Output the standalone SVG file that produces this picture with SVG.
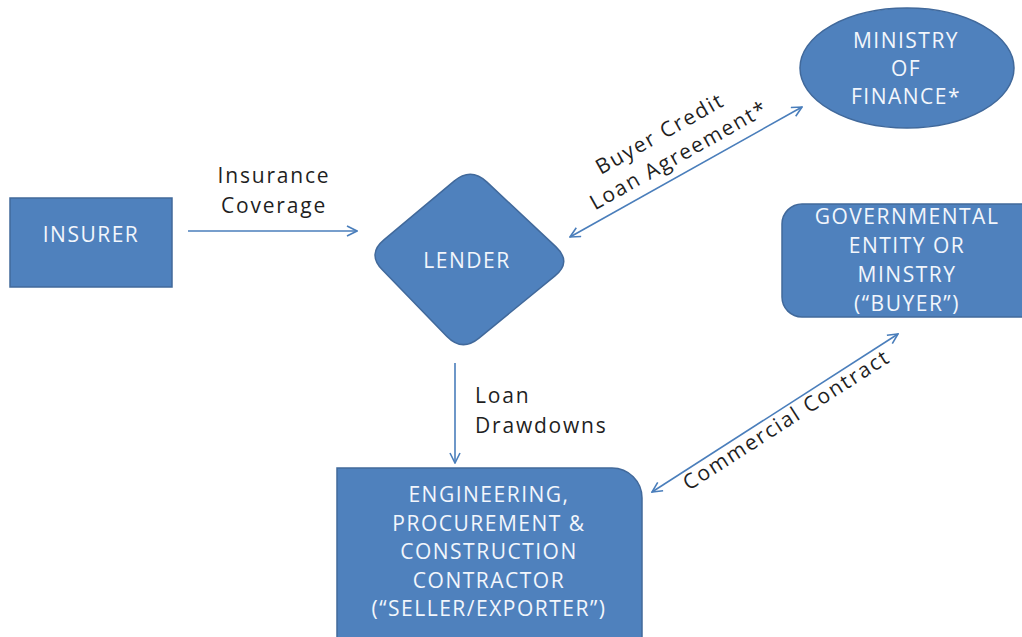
<svg xmlns="http://www.w3.org/2000/svg" width="1022" height="637" viewBox="0 0 1022 637">
  <defs>
    <style>
      .node { fill: #4f81bd; stroke: #41699b; stroke-width: 1.5; }
      .ntext { font-family: "Open Sans", "Liberation Sans", sans-serif; font-size: 21px; fill: #f2f6fc; text-anchor: middle; letter-spacing: 1.5px; }
      .link { fill: none; stroke: #4a7ebb; stroke-width: 1.6; }
      .ltext { font-family: "Open Sans", "Liberation Sans", sans-serif; font-size: 21px; fill: #1f1f1f; letter-spacing: 1.8px; }
    </style>
    <marker id="head" viewBox="0 0 12 12" refX="11" refY="6" markerWidth="12" markerHeight="12" markerUnits="userSpaceOnUse" orient="auto-start-reverse">
      <path d="M1,1 L11,6 L1,11" fill="none" stroke="#4a7ebb" stroke-width="1.6"/>
    </marker>
  </defs>
  <rect width="1022" height="637" fill="#ffffff"/>

  <!-- connectors -->
  <g id="connectors">
    <line class="link" x1="188" y1="231" x2="357" y2="231" marker-end="url(#head)"/>
    <line class="link" x1="570" y1="237" x2="802" y2="107" marker-start="url(#head)" marker-end="url(#head)"/>
    <line class="link" x1="652" y1="492" x2="898" y2="334" marker-start="url(#head)" marker-end="url(#head)"/>
    <line class="link" x1="455" y1="363" x2="455" y2="463" marker-end="url(#head)"/>

    <text class="ltext" x="274" y="183" text-anchor="middle">Insurance</text>
    <text class="ltext" x="274" y="213" text-anchor="middle">Coverage</text>

    <g transform="translate(686,172) rotate(-29.3)">
      <text class="ltext" x="-4" y="-39" text-anchor="middle">Buyer Credit</text>
      <text class="ltext" x="2" y="-11" text-anchor="middle">Loan Agreement*</text>
    </g>

    <g transform="translate(775,413) rotate(-32.7)">
      <text class="ltext" x="6" y="19" text-anchor="middle">Commercial Contract</text>
    </g>

    <text class="ltext" x="475" y="403">Loan</text>
    <text class="ltext" x="475" y="433">Drawdowns</text>
  </g>

  <!-- nodes -->
  <g id="insurer">
    <rect class="node" x="10" y="198" width="162" height="89"/>
    <text class="ntext" x="91" y="242">INSURER</text>
  </g>

  <g id="lender">
    <path class="node" d="M454.1,181.1 Q471,167 487,182.1 L556,246.9 Q572,262 555,275.9 L479,338.1 Q462,352 446.7,336.2 L382.3,269.8 Q367,254 383.9,239.9 Z"/>
    <text class="ntext" x="467" y="268">LENDER</text>
  </g>

  <g id="ministry-of-finance">
    <ellipse class="node" cx="907" cy="68" rx="107" ry="60"/>
    <text class="ntext" x="906" y="48">MINISTRY</text>
    <text class="ntext" x="906" y="76">OF</text>
    <text class="ntext" x="906" y="104">FINANCE*</text>
  </g>

  <g id="buyer">
    <rect class="node" x="782" y="204" width="260" height="113" rx="20" ry="20"/>
    <text class="ntext" x="907" y="224">GOVERNMENTAL</text>
    <text class="ntext" x="907" y="253">ENTITY OR</text>
    <text class="ntext" x="907" y="282">MINSTRY</text>
    <text class="ntext" x="907" y="311">(“BUYER”)</text>
  </g>

  <g id="epc-contractor">
    <path class="node" d="M337,468 H612 A30,30 0 0 1 642,498 V650 H337 Z"/>
    <text class="ntext" x="489" y="502">ENGINEERING,</text>
    <text class="ntext" x="489" y="531">PROCUREMENT &amp;</text>
    <text class="ntext" x="489" y="559">CONSTRUCTION</text>
    <text class="ntext" x="489" y="588">CONTRACTOR</text>
    <text class="ntext" x="489" y="616">(“SELLER/EXPORTER”)</text>
  </g>
</svg>
